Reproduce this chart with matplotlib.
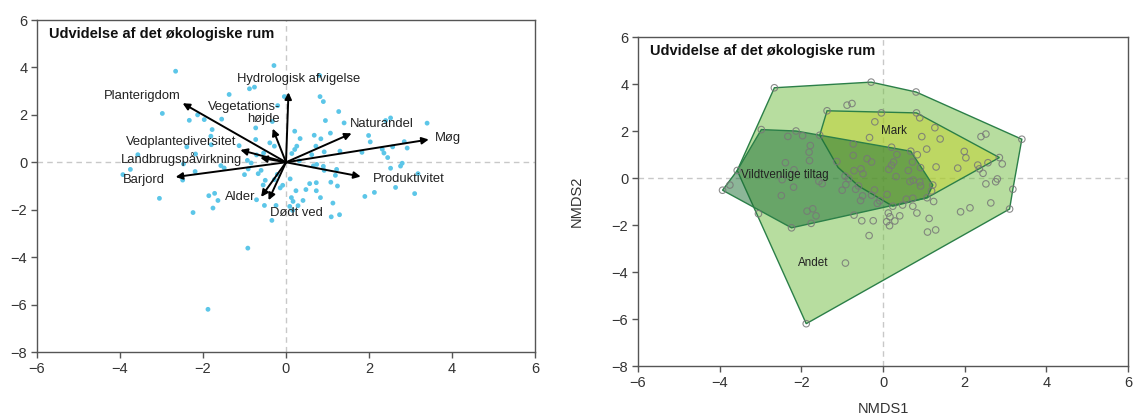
import matplotlib
matplotlib.use("Agg")
import matplotlib.pyplot as plt
from matplotlib.patches import Polygon

plt.rcParams['font.family'] = ['Liberation Sans', 'DejaVu Sans']

# site scores (same points in both panels)
nmds1 = [-0.29, -2.66, -0.88, -0.76, -1.37, -0.04, -0.20, 0.81, 0.82, 0.90, 1.27, -2.98, -2.33, -2.13,
         -1.97, 0.95, 1.40, -0.73, -0.33, -1.78, -1.55, 2.52, 2.40, 3.40, 0.21, 1.07, 0.68, 0.84, 0.34,
         1.99, 2.03, -0.73, -0.39, -0.28, -1.81, -1.80, 2.85, 2.92, 0.26, 0.21, 0.72, 0.62, 0.92, 0.14,
         1.30, 1.83, 2.36, 2.45, 2.57, 2.32, -1.13, -2.39, -2.18, -3.57, -0.93, -0.84, -0.71, -0.54,
         -0.49, -1.57, -1.49, -2.47, -3.75, -3.93, -2.49, -2.19, -1.00, -0.91, -0.67, -0.60, -0.50,
         -0.55, -0.21, -0.28, 0.10, 0.32, 0.74, 0.66, 0.90, 0.92, 1.22, 1.19, 2.52, 2.76, 2.80, 3.18,
         3.10, 2.64, 1.90, 2.13, 1.24, 1.08, 0.73, 0.57, 0.73, 0.48, 0.24, 0.83, 1.13, 1.29, 1.09, 0.13,
         0.17, 0.41, 0.29, 0.09, -0.08, -0.14, -3.05, -2.24, -1.86, -1.72, -1.64, -1.76, -0.71, -0.52,
         -0.24, -0.34, 0.16, -0.92, -1.88]
nmds2 = [4.08, 3.84, 3.10, 3.17, 2.86, 2.77, 2.39, 3.66, 2.77, 2.56, 2.14, 2.06, 1.77, 2.00,
         1.80, 1.76, 1.66, 1.45, 1.72, 1.38, 1.82, 1.87, 1.76, 1.65, 1.31, 1.23, 1.14, 0.99, 1.00,
         1.13, 0.86, 0.96, 0.82, 0.68, 1.10, 0.74, 0.87, 0.60, 0.68, 0.54, 0.68, 0.32, 0.44, 0.37,
         0.47, 0.42, 0.39, 0.20, 0.65, 0.55, 0.70, 0.65, 0.35, 0.32, 0.08, -0.03, 0.31, 0.39,
         0.18, -0.14, -0.24, -0.07, -0.30, -0.52, -0.75, -0.39, -0.52, -0.28, -0.48, -0.34, -0.76,
         -0.96, -0.51, -0.73, -0.70, 0.06, -0.09, -0.15, -0.17, -0.34, -0.30, -0.55, -0.25, -0.16, -0.04, -0.48,
         -1.32, -1.06, -1.44, -1.27, -1.00, -0.84, -0.86, -0.90, -1.20, -1.15, -1.20, -1.49, -1.72, -2.21, -2.30, -1.49,
         -1.65, -1.61, -1.83, -1.86, -0.97, -1.08, -1.52, -2.12, -1.41, -1.31, -1.61, -1.93, -1.58, -1.82,
         -1.82, -2.45, -2.03, -3.62, -6.20]

# environmental vectors
env_names = ["Planterigdom", "Hydrologisk afvigelse", "Vegetations-\nhøjde", "Naturandel", "Møg",
             "Produktivitet", "Dødt ved", "Alder", "Barjord", "Landbrugspåvirkning", "Vedplantediversitet"]
env_x = [-2.49, 0.06, -0.32, 1.58, 3.44, 1.80, -0.42, -0.60, -2.66, -0.62, -1.10]
env_y = [2.49, 2.95, 1.42, 1.22, 0.96, -0.60, -1.60, -1.46, -0.62, 0.19, 0.52]

# label placement (x, y, ha)
label_pos = [(-3.47, 2.81, 'center'), (0.31, 3.50, 'center'), (-0.14, 2.08, 'right'),
             (1.54, 1.61, 'left'), (3.59, 1.01, 'left'), (2.09, -0.72, 'left'),
             (0.25, -2.12, 'center'), (-0.73, -1.45, 'right'), (-2.92, -0.75, 'right'),
             (-2.52, 0.13, 'center'), (-2.53, 0.87, 'center')]

# convex hulls per group
andet_x = [-3.57, -2.66, -0.29, 0.81, 3.40, 3.18, 3.10, -1.88]
andet_y = [0.32, 3.84, 4.08, 3.66, 1.65, -0.48, -1.32, -6.20]
mark_x = [-1.37, -1.55, -1.10, -0.60, 0.24, 1.08, 2.85, 0.82]
mark_y = [2.86, 1.82, 0.45, -0.34, -1.20, -0.84, 0.87, 2.77]
vild_x = [-2.98, -2.13, 0.68, 1.22, 1.08, -2.24, -3.93, -3.57]
vild_y = [2.06, 2.00, 1.14, -0.30, -0.84, -2.12, -0.52, 0.32]

ticks = [-6, -4, -2, 0, 2, 4, 6]
yticks = [-8, -6, -4, -2, 0, 2, 4, 6]
title = "Udvidelse af det økologiske rum"


def style_axes(ax):
    ax.set_xlim(-6, 6)
    ax.set_ylim(-8, 6)
    ax.set_xticks(ticks)
    ax.set_yticks(yticks)
    for s in ax.spines.values():
        s.set_color('#555555')
        s.set_linewidth(1)
    ax.tick_params(direction='out', length=4, width=1, color='#555555',
                   labelsize=10.5, labelcolor='#333333', pad=3)
    ax.axhline(0, color='#c8c8c8', ls=(0, (4, 3)), lw=1, zorder=0)
    ax.axvline(0, color='#c8c8c8', ls=(0, (4, 3)), lw=1, zorder=0)
    ax.text(0.025, 0.958, title, transform=ax.transAxes, fontsize=10.5,
            fontweight='bold', va='center', ha='left', color='#111111')


fig = plt.figure(figsize=(11.34, 4.19), dpi=100)
ax1 = fig.add_axes([37 / 1134, 1 - 352 / 419, 498 / 1134, 332 / 419])
ax2 = fig.add_axes([638 / 1134, 1 - 366 / 419, 490 / 1134, 329 / 419])

# left: biplot
style_axes(ax1)
ax1.scatter(nmds1, nmds2, s=12, color='#5cc6e8', edgecolors='none', zorder=2)
for name, ex, ey, (lx, ly, ha) in zip(env_names, env_x, env_y, label_pos):
    ax1.annotate('', xy=(ex, ey), xytext=(0, 0),
                 arrowprops=dict(arrowstyle='-|>', color='black', lw=1.4,
                                 mutation_scale=10, shrinkA=0, shrinkB=0), zorder=3)
    ax1.text(lx, ly, name, ha=ha, va='center', fontsize=9.4, color='#222222',
             multialignment='right', linespacing=1.1, zorder=4)

# right: hulls
style_axes(ax2)
edge = '#2b7f48'
ax2.add_patch(Polygon(list(zip(andet_x, andet_y)), closed=True, facecolor='#71bd41',
                      alpha=0.5, edgecolor='none', zorder=1))
ax2.add_patch(Polygon(list(zip(andet_x, andet_y)), closed=True, fill=False,
                      edgecolor=edge, lw=1, zorder=1))
ax2.add_patch(Polygon(list(zip(mark_x, mark_y)), closed=True, facecolor='#c4d228',
                      alpha=0.5, edgecolor='none', zorder=1))
ax2.add_patch(Polygon(list(zip(mark_x, mark_y)), closed=True, fill=False,
                      edgecolor=edge, lw=1, zorder=1))
ax2.add_patch(Polygon(list(zip(vild_x, vild_y)), closed=True, facecolor='#1a6e33',
                      alpha=0.5, edgecolor='none', zorder=1))
ax2.add_patch(Polygon(list(zip(vild_x, vild_y)), closed=True, fill=False,
                      edgecolor=edge, lw=1, zorder=1))
ax2.scatter(nmds1, nmds2, s=22, facecolors='none', edgecolors='#777777',
            linewidths=0.8, alpha=0.85, zorder=2)
ax2.text(0.28, 2.02, "Mark", fontsize=8.4, ha='center', va='center', color='#222222', zorder=3)
ax2.text(-2.40, 0.13, "Vildtvenlige tiltag", fontsize=8.4, ha='center', va='center',
         color='#222222', zorder=3)
ax2.text(-1.71, -3.60, "Andet", fontsize=8.4, ha='center', va='center', color='#222222', zorder=3)
ax2.set_xlabel("NMDS1", fontsize=10.5, color='#333333')
ax2.set_ylabel("NMDS2", fontsize=10.5, color='#333333')
ax2.xaxis.set_label_coords(0.5, -0.11)
ax2.yaxis.set_label_coords(-0.11, 0.5)

fig.savefig("out.png", dpi=100)
